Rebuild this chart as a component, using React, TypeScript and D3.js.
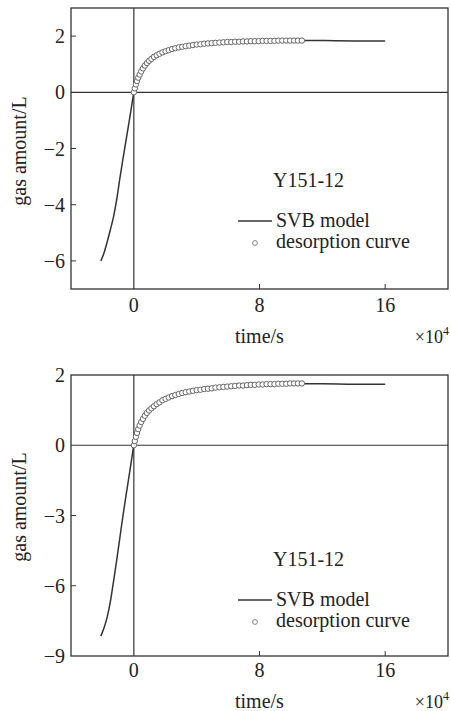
import * as d3 from "d3";

// x ticks (units of 10^4 s)
const xTicks = [0, 8, 16];

// top panel
const topYTicks = [-6, -4, -2, 0, 2];
const topYLabels = ["−6", "−4", "−2", "0", "2"];
const topModelX = [-2.1, -1.9, -1.7, -1.5, -1.3, -1.1, -0.9, -0.7, -0.5, -0.3, -0.1, 0, 0.2, 0.5, 1, 1.5, 2, 3, 4, 5, 6, 8, 10, 12, 14, 16];
const topModelY = [-6.0, -5.72, -5.33, -4.9, -4.45, -3.85, -3.1, -2.4, -1.72, -1.04, -0.35, 0, 0.4, 0.78, 1.12, 1.33, 1.46, 1.62, 1.7, 1.75, 1.79, 1.82, 1.84, 1.84, 1.83, 1.83];
const desX = [0, 0.06, 0.13, 0.2, 0.28, 0.37, 0.47, 0.58, 0.7, 0.83, 0.97, 1.12, 1.28, 1.45, 1.63, 1.82, 2.02, 2.22, 2.43, 2.64, 2.86, 3.08, 3.3, 3.53, 3.76, 4.0, 4.24, 4.48, 4.72, 4.96, 5.2, 5.45, 5.7, 5.95, 6.2, 6.45, 6.7, 6.95, 7.2, 7.45, 7.7, 7.95, 8.2, 8.45, 8.7, 8.95, 9.2, 9.45, 9.7, 9.95, 10.2, 10.45, 10.7];
const topDesY = [0, 0.14, 0.28, 0.4, 0.52, 0.63, 0.74, 0.85, 0.95, 1.04, 1.12, 1.19, 1.26, 1.32, 1.37, 1.42, 1.46, 1.5, 1.54, 1.57, 1.6, 1.62, 1.64, 1.66, 1.68, 1.7, 1.71, 1.73, 1.74, 1.75, 1.76, 1.77, 1.78, 1.79, 1.79, 1.8, 1.8, 1.81, 1.81, 1.82, 1.82, 1.82, 1.83, 1.83, 1.83, 1.83, 1.84, 1.84, 1.84, 1.84, 1.84, 1.84, 1.84];

// bottom panel
const botYTicks = [-9, -6, -3, 0, 2];
const botYLabels = ["−9", "−6", "−3", "0", "2"];
const botModelX = [-2.1, -1.9, -1.7, -1.5, -1.3, -1.1, -0.9, -0.7, -0.5, -0.3, -0.1, 0, 0.2, 0.5, 1, 1.5, 2, 3, 4, 5, 6, 8, 10, 12, 14, 16];
const botModelY = [-8.15, -7.8, -7.35, -6.7, -5.85, -4.95, -4.0, -3.05, -2.15, -1.3, -0.42, 0, 0.35, 0.68, 1.0, 1.2, 1.32, 1.49, 1.57, 1.64, 1.69, 1.73, 1.75, 1.75, 1.74, 1.74];
const botDesY = [0, 0.12, 0.24, 0.35, 0.46, 0.56, 0.66, 0.75, 0.84, 0.92, 0.99, 1.05, 1.11, 1.17, 1.22, 1.28, 1.32, 1.36, 1.4, 1.43, 1.46, 1.49, 1.51, 1.53, 1.55, 1.57, 1.58, 1.6, 1.61, 1.62, 1.64, 1.65, 1.66, 1.67, 1.68, 1.69, 1.7, 1.7, 1.71, 1.72, 1.72, 1.73, 1.73, 1.74, 1.74, 1.74, 1.75, 1.75, 1.75, 1.76, 1.76, 1.76, 1.76];

const font = "Liberation Serif, serif";
const ink = "#333";

type PanelProps = {
  top: number;
  bottom: number;
  yDomain: number[];
  yTicks: number[];
  yLabels: string[];
  modelX: number[];
  modelY: number[];
  desY: number[];
  yLabelY: number;
  legendTop: number;
  tickLabelGap: number;
  titleGap: number;
};

function Panel(p: PanelProps) {
  const left = 71;
  const right = 448;
  const x = d3.scaleLinear().domain([-4, 20]).range([left, right]);
  const yRange = p.yDomain.length === 3
    ? [p.bottom, p.bottom - (p.bottom - p.top) * 0.75, p.top]
    : [p.bottom, p.top];
  const y = d3.scaleLinear().domain(p.yDomain).range(yRange);

  const line = d3.line<number>()
    .x((_, i) => x(p.modelX[i]))
    .y((d) => y(d))
    .curve(d3.curveMonotoneX);

  const lt = p.legendTop;
  const txt = { fontSize: 20, fontFamily: font, fill: "#222" };
  return (
    <g>
      <rect x={left} y={p.top} width={right - left} height={p.bottom - p.top} fill="none" stroke={ink} strokeWidth={1.3} />
      <line x1={x(0)} x2={x(0)} y1={p.top} y2={p.bottom} stroke={ink} strokeWidth={1.2} />
      <line x1={left} x2={right} y1={y(0)} y2={y(0)} stroke={ink} strokeWidth={1.2} />
      {p.yTicks.map((t, i) => (
        <g key={"y" + t}>
          {t !== 0 && y(t) > p.top + 1 && y(t) < p.bottom - 1 && (
            <line x1={left} x2={left + 5} y1={y(t)} y2={y(t)} stroke={ink} strokeWidth={1} />
          )}
          <text x={65} y={y(t)} dy="0.35em" textAnchor="end" style={txt}>
            {p.yLabels[i]}
          </text>
        </g>
      ))}
      {xTicks.map((t) => (
        <g key={"x" + t}>
          {t !== 0 && <line x1={x(t)} x2={x(t)} y1={p.bottom} y2={p.bottom - 5} stroke={ink} strokeWidth={1} />}
          <text x={x(t)} y={p.bottom + p.tickLabelGap} textAnchor="middle" style={txt}>
            {t}
          </text>
        </g>
      ))}
      <text x={235} y={p.bottom + p.titleGap} style={txt}>time/s</text>
      <text x={449} y={p.bottom + p.titleGap} textAnchor="end" style={{ ...txt, fontSize: 18 }}>
        ×10<tspan style={{ fontSize: 12 }} dy={-8}>4</tspan>
      </text>
      <text transform={`translate(26,${p.yLabelY}) rotate(-90)`} textAnchor="middle" style={txt}>
        gas amount/L
      </text>
      <path d={line(p.modelY) || ""} fill="none" stroke={ink} strokeWidth={1.5} />
      {desX.map((d, i) => (
        <circle key={i} cx={x(d)} cy={y(p.desY[i])} r={2.7} fill="#fff" stroke="#666" strokeWidth={1} />
      ))}
      <text x={273} y={lt} style={txt}>Y151-12</text>
      <line x1={238} x2={272} y1={lt + 34} y2={lt + 34} stroke={ink} strokeWidth={1.5} />
      <text x={276} y={lt + 40} style={txt}>SVB model</text>
      <circle cx={255} cy={lt + 56} r={2.4} fill="#fff" stroke="#777" strokeWidth={0.9} />
      <text x={276} y={lt + 61} style={txt}>desorption curve</text>
    </g>
  );
}

export default function App() {
  return (
    <svg width={451} height={711} style={{ position: "absolute", left: 0, top: 0, background: "#fff" }}>
      <Panel
        top={8}
        bottom={289}
        yDomain={[-7, 3]}
        yTicks={topYTicks}
        yLabels={topYLabels}
        modelX={topModelX}
        modelY={topModelY}
        desY={topDesY}
        yLabelY={151}
        legendTop={187}
        tickLabelGap={23}
        titleGap={54}
      />
      <Panel
        top={375}
        bottom={656}
        yDomain={[-9, 0, 2]}
        yTicks={botYTicks}
        yLabels={botYLabels}
        modelX={botModelX}
        modelY={botModelY}
        desY={botDesY}
        yLabelY={507}
        legendTop={566}
        tickLabelGap={21}
        titleGap={52}
      />
    </svg>
  );
}
